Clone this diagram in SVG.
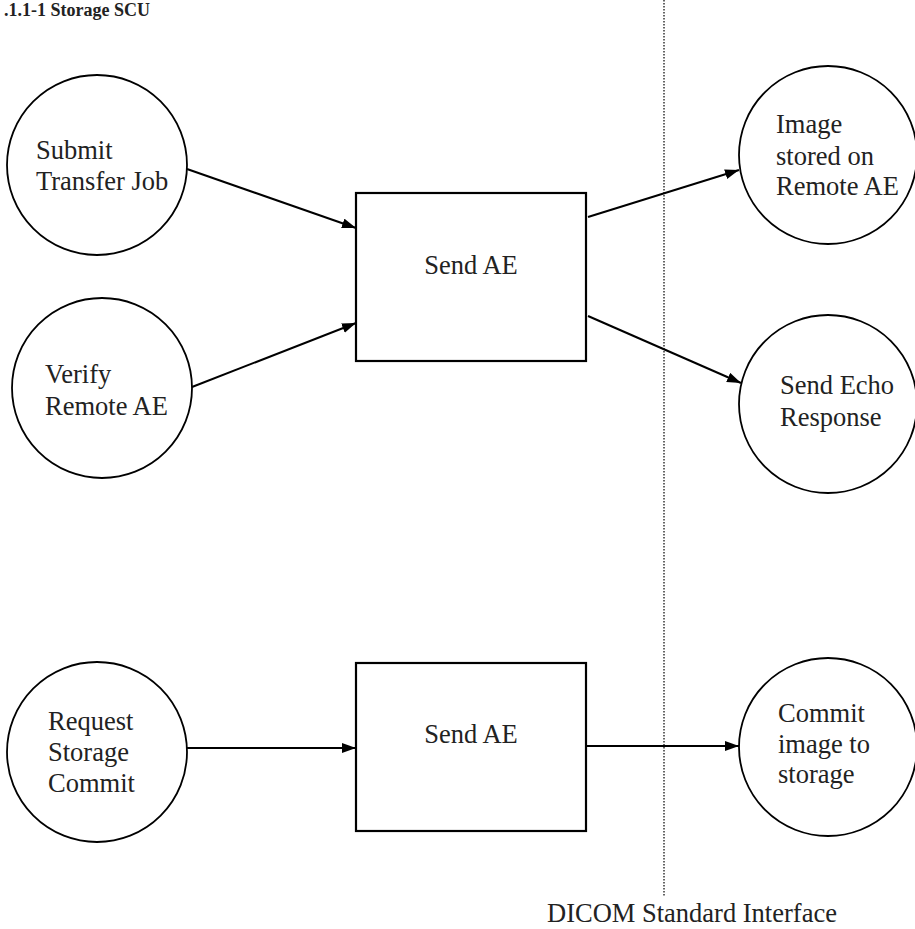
<svg xmlns="http://www.w3.org/2000/svg" width="915" height="929" viewBox="0 0 915 929">
<style>
.t{font-family:"Liberation Serif","Times New Roman",serif;font-size:26.5px;fill:#222}
.c{fill:#fff;stroke:#000;stroke-width:1.8}
.b{fill:#fff;stroke:#000;stroke-width:2.2}
.e{stroke:#000;stroke-width:2;fill:none;marker-end:url(#ah)}
</style>
<defs>
<marker id="ah" markerUnits="userSpaceOnUse" markerWidth="16" markerHeight="12" refX="14" refY="5" orient="auto">
<path d="M0,0 L14,5 L0,10 z" fill="#000"/>
</marker>
</defs>
<rect width="915" height="929" fill="#fff"/>
<text x="4" y="16" style="font-family:'Liberation Serif','Times New Roman',serif;font-size:18px;font-weight:bold;fill:#222">.1.1-1 Storage SCU</text>
<line x1="664" y1="0" x2="664" y2="897" stroke="#333" stroke-width="1.5" stroke-dasharray="1.5,1.5"/>
<g id="connectors">
<line class="e" x1="187" y1="169" x2="356" y2="228"/>
<line class="e" x1="192" y1="387" x2="356" y2="323"/>
<line class="e" x1="588" y1="217" x2="739" y2="170"/>
<line class="e" x1="588" y1="316" x2="741" y2="383"/>
<line class="e" x1="187" y1="748" x2="356" y2="748"/>
<line class="e" x1="586" y1="746" x2="739" y2="746"/>
</g>
<g id="submit">
<circle class="c" cx="97" cy="165" r="90"/>
<text class="t" x="36" y="159">Submit</text>
<text class="t" x="36" y="190">Transfer Job</text>
</g>
<g id="verify">
<circle class="c" cx="102" cy="388" r="90"/>
<text class="t" x="45" y="383">Verify</text>
<text class="t" x="45" y="415">Remote AE</text>
</g>
<g id="sendae1">
<rect class="b" x="356" y="193" width="230" height="168"/>
<text class="t" x="471" y="274" text-anchor="middle">Send AE</text>
</g>
<g id="imagestored">
<circle class="c" cx="828" cy="155" r="89"/>
<text class="t" x="776" y="133">Image</text>
<text class="t" x="776" y="165">stored on</text>
<text class="t" x="776" y="195">Remote AE</text>
</g>
<g id="echo">
<circle class="c" cx="828" cy="404" r="89"/>
<text class="t" x="780" y="394">Send Echo</text>
<text class="t" x="780" y="426">Response</text>
</g>
<g id="request">
<circle class="c" cx="97" cy="752" r="90"/>
<text class="t" x="48" y="730">Request</text>
<text class="t" x="48" y="761">Storage</text>
<text class="t" x="48" y="792">Commit</text>
</g>
<g id="sendae2">
<rect class="b" x="356" y="663" width="230" height="168"/>
<text class="t" x="471" y="743" text-anchor="middle">Send AE</text>
</g>
<g id="commit">
<circle class="c" cx="828" cy="747" r="89"/>
<text class="t" x="778" y="722">Commit</text>
<text class="t" x="778" y="753">image to</text>
<text class="t" x="778" y="783">storage</text>
</g>
<text class="t" x="547" y="922">DICOM Standard Interface</text>
</svg>
